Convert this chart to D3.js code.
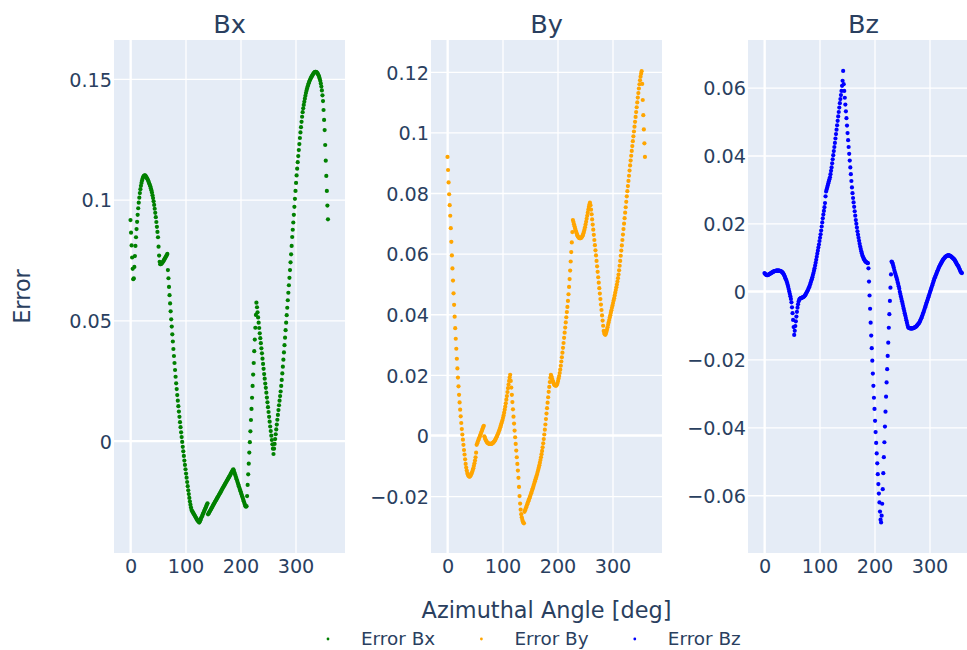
<!DOCTYPE html>
<html>
<head>
<meta charset="utf-8">
<script src="https://cdn.jsdelivr.net/npm/d3@7"></script>
<style>
  html, body { margin: 0; padding: 0; background: #fff; }
  svg text { font-family: "DejaVu Sans", Verdana, sans-serif; fill: #2a3f5f; }
</style>
</head>
<body>
<div id="chart"></div>
<script>
// Field error vs azimuthal angle, one sample per degree (0..359)
const ANGLES = d3.range(0, 360);

const ERROR_BX = [
  0.0915, 0.0863, 0.0810, 0.0760, 0.0713, 0.0670, 0.0674, 0.0721, 0.0766, 0.0808,
  0.0844, 0.0878, 0.0908, 0.0937, 0.0964, 0.0987, 0.1008, 0.1027, 0.1043, 0.1057,
  0.1069, 0.1079, 0.1087, 0.1093, 0.1097, 0.1099, 0.1100, 0.1099, 0.1096, 0.1092,
  0.1088, 0.1084, 0.1079, 0.1073, 0.1067, 0.1061, 0.1055, 0.1047, 0.1039, 0.1029,
  0.1018, 0.1006, 0.0993, 0.0978, 0.0962, 0.0945, 0.0927, 0.0907, 0.0887, 0.0866,
  0.0844, 0.0805, 0.0768, 0.0742, 0.0732, 0.0732, 0.0734, 0.0736, 0.0739, 0.0742,
  0.0746, 0.0750, 0.0754, 0.0758, 0.0762, 0.0766, 0.0770, 0.0775, 0.0708, 0.0674,
  0.0638, 0.0604, 0.0570, 0.0537, 0.0504, 0.0474, 0.0442, 0.0412, 0.0381, 0.0352,
  0.0323, 0.0294, 0.0266, 0.0239, 0.0215, 0.0190, 0.0167, 0.0144, 0.0122, 0.0100,
  0.0078, 0.0057, 0.0036, 0.0016, -0.0004, -0.0024, -0.0043, -0.0062, -0.0081, -0.0099,
  -0.0117, -0.0135, -0.0152, -0.0170, -0.0187, -0.0204, -0.0220, -0.0236, -0.0251, -0.0264,
  -0.0276, -0.0286, -0.0290, -0.0294, -0.0298, -0.0302, -0.0306, -0.0310, -0.0314, -0.0318,
  -0.0322, -0.0326, -0.0329, -0.0332, -0.0335, -0.0338, -0.0333, -0.0328, -0.0322, -0.0317,
  -0.0312, -0.0306, -0.0301, -0.0296, -0.0290, -0.0285, -0.0280, -0.0274, -0.0269, -0.0263,
  -0.0258, -0.0304, -0.0300, -0.0296, -0.0292, -0.0288, -0.0284, -0.0280, -0.0276, -0.0272,
  -0.0267, -0.0263, -0.0259, -0.0255, -0.0251, -0.0247, -0.0243, -0.0239, -0.0235, -0.0231,
  -0.0227, -0.0223, -0.0219, -0.0215, -0.0211, -0.0207, -0.0202, -0.0198, -0.0194, -0.0190,
  -0.0186, -0.0182, -0.0178, -0.0174, -0.0170, -0.0166, -0.0162, -0.0158, -0.0154, -0.0150,
  -0.0146, -0.0142, -0.0137, -0.0133, -0.0129, -0.0125, -0.0121, -0.0117, -0.0124, -0.0131,
  -0.0138, -0.0145, -0.0152, -0.0159, -0.0166, -0.0173, -0.0180, -0.0187, -0.0194, -0.0201,
  -0.0208, -0.0215, -0.0222, -0.0229, -0.0236, -0.0243, -0.0250, -0.0257, -0.0264, -0.0270,
  -0.0272, -0.0270, -0.0228, -0.0182, -0.0138, -0.0094, -0.0048, -0.0005, 0.0040, 0.0087,
  0.0133, 0.0179, 0.0228, 0.0275, 0.0323, 0.0372, 0.0420, 0.0469, 0.0522, 0.0573,
  0.0554, 0.0533, 0.0512, 0.0490, 0.0468, 0.0446, 0.0426, 0.0405, 0.0384, 0.0363,
  0.0341, 0.0319, 0.0299, 0.0277, 0.0258, 0.0238, 0.0220, 0.0200, 0.0180, 0.0160,
  0.0140, 0.0120, 0.0100, 0.0080, 0.0060, 0.0041, 0.0022, 0.0004, -0.0014, -0.0032,
  -0.0054, -0.0032, -0.0012, 0.0008, 0.0028, 0.0048, 0.0068, 0.0088, 0.0108, 0.0128,
  0.0148, 0.0167, 0.0186, 0.0205, 0.0228, 0.0253, 0.0280, 0.0308, 0.0337, 0.0367,
  0.0397, 0.0428, 0.0459, 0.0490, 0.0521, 0.0552, 0.0583, 0.0614, 0.0645, 0.0676,
  0.0708, 0.0740, 0.0773, 0.0808, 0.0845, 0.0875, 0.0905, 0.0937, 0.0970, 0.1003,
  0.1036, 0.1069, 0.1100, 0.1128, 0.1155, 0.1180, 0.1205, 0.1230, 0.1255, 0.1278,
  0.1300, 0.1322, 0.1343, 0.1362, 0.1378, 0.1392, 0.1405, 0.1418, 0.1430, 0.1441,
  0.1451, 0.1460, 0.1468, 0.1475, 0.1482, 0.1488, 0.1494, 0.1499, 0.1504, 0.1508,
  0.1512, 0.1516, 0.1520, 0.1523, 0.1526, 0.1528, 0.1529, 0.1529, 0.1528, 0.1526,
  0.1523, 0.1519, 0.1514, 0.1508, 0.1501, 0.1492, 0.1481, 0.1468, 0.1452, 0.1432,
  0.1408, 0.1371, 0.1330, 0.1288, 0.1226, 0.1161, 0.1098, 0.1036, 0.0975, 0.0918
];

const ERROR_BY = [
  0.0919, 0.0876, 0.0835, 0.0796, 0.0760, 0.0725, 0.0684, 0.0639, 0.0594, 0.0551,
  0.0511, 0.0469, 0.0431, 0.0392, 0.0354, 0.0319, 0.0286, 0.0253, 0.0221, 0.0191,
  0.0162, 0.0134, 0.0109, 0.0085, 0.0063, 0.0041, 0.0021, 0.0003, -0.0014, -0.0031,
  -0.0048, -0.0063, -0.0079, -0.0094, -0.0106, -0.0116, -0.0124, -0.0129, -0.0133, -0.0135,
  -0.0136, -0.0135, -0.0132, -0.0128, -0.0124, -0.0120, -0.0114, -0.0108, -0.0100, -0.0092,
  -0.0083, -0.0072, -0.0057, -0.0031, -0.0026, -0.0021, -0.0016, -0.0011, -0.0007, -0.0002,
  0.0003, 0.0008, 0.0013, 0.0018, 0.0023, 0.0028, 0.0032, -0.0003, -0.0008, -0.0013,
  -0.0017, -0.0020, -0.0023, -0.0025, -0.0026, -0.0027, -0.0028, -0.0028, -0.0028, -0.0028,
  -0.0027, -0.0027, -0.0026, -0.0024, -0.0022, -0.0020, -0.0017, -0.0014, -0.0010, -0.0006,
  -0.0002, 0.0002, 0.0006, 0.0011, 0.0016, 0.0021, 0.0027, 0.0033, 0.0039, 0.0045,
  0.0051, 0.0058, 0.0066, 0.0075, 0.0085, 0.0095, 0.0106, 0.0118, 0.0130, 0.0143,
  0.0156, 0.0168, 0.0180, 0.0191, 0.0200, 0.0180, 0.0158, 0.0134, 0.0110, 0.0086,
  0.0062, 0.0039, 0.0016, -0.0006, -0.0028, -0.0050, -0.0072, -0.0094, -0.0116, -0.0140,
  -0.0170, -0.0200, -0.0225, -0.0245, -0.0260, -0.0270, -0.0278, -0.0284, -0.0288, -0.0290,
  -0.0252, -0.0247, -0.0242, -0.0237, -0.0232, -0.0227, -0.0222, -0.0217, -0.0212, -0.0207,
  -0.0202, -0.0197, -0.0191, -0.0186, -0.0180, -0.0175, -0.0169, -0.0163, -0.0157, -0.0151,
  -0.0145, -0.0139, -0.0133, -0.0127, -0.0120, -0.0113, -0.0106, -0.0098, -0.0090, -0.0081,
  -0.0072, -0.0062, -0.0051, -0.0039, -0.0026, -0.0012, 0.0003, 0.0019, 0.0036, 0.0054,
  0.0072, 0.0090, 0.0108, 0.0126, 0.0144, 0.0160, 0.0176, 0.0190, 0.0200, 0.0195,
  0.0188, 0.0182, 0.0177, 0.0172, 0.0168, 0.0166, 0.0165, 0.0164, 0.0165, 0.0168,
  0.0173, 0.0180, 0.0188, 0.0196, 0.0206, 0.0217, 0.0230, 0.0244, 0.0258, 0.0273,
  0.0289, 0.0305, 0.0322, 0.0339, 0.0356, 0.0373, 0.0390, 0.0407, 0.0424, 0.0444,
  0.0466, 0.0490, 0.0516, 0.0544, 0.0574, 0.0605, 0.0637, 0.0671, 0.0711, 0.0704,
  0.0697, 0.0690, 0.0683, 0.0677, 0.0671, 0.0666, 0.0661, 0.0657, 0.0654, 0.0652,
  0.0651, 0.0651, 0.0651, 0.0652, 0.0654, 0.0657, 0.0661, 0.0666, 0.0672, 0.0679,
  0.0687, 0.0696, 0.0705, 0.0715, 0.0725, 0.0735, 0.0745, 0.0754, 0.0762, 0.0768,
  0.0760, 0.0745, 0.0730, 0.0713, 0.0696, 0.0679, 0.0662, 0.0645, 0.0628, 0.0611,
  0.0594, 0.0576, 0.0558, 0.0540, 0.0522, 0.0504, 0.0486, 0.0468, 0.0450, 0.0432,
  0.0414, 0.0396, 0.0379, 0.0362, 0.0345, 0.0338, 0.0334, 0.0332, 0.0336, 0.0342,
  0.0349, 0.0357, 0.0365, 0.0373, 0.0381, 0.0389, 0.0397, 0.0405, 0.0413, 0.0421,
  0.0429, 0.0437, 0.0445, 0.0453, 0.0462, 0.0471, 0.0480, 0.0489, 0.0498, 0.0508,
  0.0519, 0.0531, 0.0545, 0.0560, 0.0576, 0.0593, 0.0610, 0.0627, 0.0645, 0.0663,
  0.0681, 0.0699, 0.0717, 0.0735, 0.0753, 0.0771, 0.0789, 0.0806, 0.0823, 0.0840,
  0.0857, 0.0874, 0.0891, 0.0907, 0.0923, 0.0939, 0.0955, 0.0971, 0.0987, 0.1003,
  0.1019, 0.1035, 0.1051, 0.1067, 0.1083, 0.1099, 0.1115, 0.1130, 0.1145, 0.1159,
  0.1172, 0.1184, 0.1194, 0.1202, 0.1160, 0.1107, 0.1057, 0.1010, 0.0964, 0.0919
];

const ERROR_BZ = [
  0.0054, 0.0052, 0.0050, 0.0049, 0.0048, 0.0048, 0.0048, 0.0049, 0.0050, 0.0051,
  0.0052, 0.0053, 0.0054, 0.0055, 0.0056, 0.0057, 0.0058, 0.0059, 0.0059, 0.0060,
  0.0060, 0.0061, 0.0061, 0.0061, 0.0061, 0.0061, 0.0061, 0.0061, 0.0060, 0.0060,
  0.0059, 0.0058, 0.0057, 0.0055, 0.0053, 0.0050, 0.0047, 0.0043, 0.0039, 0.0035,
  0.0031, 0.0026, 0.0020, 0.0014, 0.0007, 0.0000, -0.0007, -0.0014, -0.0022, -0.0032,
  -0.0047, -0.0064, -0.0084, -0.0105, -0.0128, -0.0116, -0.0102, -0.0088, -0.0074, -0.0060,
  -0.0048, -0.0038, -0.0030, -0.0025, -0.0022, -0.0021, -0.0020, -0.0019, -0.0019, -0.0018,
  -0.0017, -0.0016, -0.0015, -0.0013, -0.0011, -0.0008, -0.0005, -0.0002, 0.0001, 0.0004,
  0.0008, 0.0012, 0.0016, 0.0021, 0.0026, 0.0031, 0.0036, 0.0042, 0.0048, 0.0054,
  0.0061, 0.0068, 0.0076, 0.0084, 0.0093, 0.0102, 0.0111, 0.0120, 0.0129, 0.0138,
  0.0148, 0.0158, 0.0168, 0.0179, 0.0191, 0.0203, 0.0215, 0.0226, 0.0237, 0.0248,
  0.0260, 0.0280, 0.0294, 0.0300, 0.0306, 0.0312, 0.0318, 0.0324, 0.0330, 0.0336,
  0.0345, 0.0355, 0.0365, 0.0377, 0.0389, 0.0401, 0.0413, 0.0425, 0.0437, 0.0450,
  0.0463, 0.0476, 0.0489, 0.0502, 0.0515, 0.0528, 0.0541, 0.0554, 0.0566, 0.0578,
  0.0590, 0.0605, 0.0620, 0.0649, 0.0610, 0.0590, 0.0570, 0.0550, 0.0530, 0.0510,
  0.0488, 0.0466, 0.0445, 0.0425, 0.0405, 0.0385, 0.0365, 0.0345, 0.0325, 0.0306,
  0.0289, 0.0275, 0.0262, 0.0249, 0.0236, 0.0223, 0.0210, 0.0199, 0.0188, 0.0177,
  0.0167, 0.0158, 0.0149, 0.0140, 0.0132, 0.0125, 0.0118, 0.0112, 0.0106, 0.0102,
  0.0098, 0.0095, 0.0092, 0.0089, 0.0087, 0.0086, 0.0085, 0.0084, 0.0083, 0.0068,
  0.0029, -0.0012, -0.0051, -0.0092, -0.0130, -0.0167, -0.0204, -0.0242, -0.0278, -0.0313,
  -0.0346, -0.0381, -0.0414, -0.0446, -0.0477, -0.0506, -0.0538, -0.0567, -0.0595, -0.0621,
  -0.0648, -0.0672, -0.0680, -0.0660, -0.0625, -0.0582, -0.0535, -0.0488, -0.0444, -0.0398,
  -0.0354, -0.0310, -0.0268, -0.0229, -0.0190, -0.0151, -0.0107, -0.0067, -0.0028, 0.0011,
  0.0050, 0.0088, 0.0086, 0.0082, 0.0076, 0.0070, 0.0063, 0.0057, 0.0052, 0.0046,
  0.0041, 0.0035, 0.0028, 0.0022, 0.0015, 0.0008, -0.0001, -0.0008, -0.0015, -0.0022,
  -0.0029, -0.0036, -0.0043, -0.0050, -0.0057, -0.0064, -0.0071, -0.0078, -0.0085, -0.0092,
  -0.0099, -0.0105, -0.0107, -0.0108, -0.0108, -0.0109, -0.0109, -0.0109, -0.0109, -0.0109,
  -0.0108, -0.0108, -0.0107, -0.0106, -0.0105, -0.0104, -0.0103, -0.0101, -0.0099, -0.0097,
  -0.0095, -0.0093, -0.0090, -0.0087, -0.0083, -0.0079, -0.0075, -0.0071, -0.0066, -0.0062,
  -0.0057, -0.0052, -0.0047, -0.0042, -0.0037, -0.0032, -0.0027, -0.0022, -0.0017, -0.0012,
  -0.0007, -0.0002, 0.0003, 0.0008, 0.0013, 0.0018, 0.0023, 0.0028, 0.0033, 0.0038,
  0.0042, 0.0046, 0.0050, 0.0054, 0.0058, 0.0062, 0.0066, 0.0070, 0.0073, 0.0077,
  0.0080, 0.0083, 0.0086, 0.0089, 0.0092, 0.0094, 0.0096, 0.0098, 0.0100, 0.0102,
  0.0103, 0.0104, 0.0105, 0.0106, 0.0106, 0.0106, 0.0106, 0.0105, 0.0104, 0.0103,
  0.0102, 0.0100, 0.0099, 0.0097, 0.0096, 0.0094, 0.0092, 0.0089, 0.0086, 0.0083,
  0.0080, 0.0077, 0.0075, 0.0072, 0.0068, 0.0064, 0.0060, 0.0057, 0.0055, 0.0054
];

const SUBPLOT_TITLES = ["Bx", "By", "Bz"];
const SERIES_NAMES   = ["Error Bx", "Error By", "Error Bz"];
const SERIES_COLORS  = ["green", "orange", "blue"];
const X_TICKS    = [0, 100, 200, 300];
const Y_TICKS_BX = [0, 0.05, 0.1, 0.15];
const Y_TICKS_BY = [-0.02, 0, 0.02, 0.04, 0.06, 0.08, 0.1, 0.12];
const Y_TICKS_BZ = [-0.06, -0.04, -0.02, 0, 0.02, 0.04, 0.06];

// Layout
const W = 967, H = 650;
const PLOT_TOP = 40, PLOT_H = 513, PLOT_W = 231;
const PLOT_LEFT = [114, 431, 748];
const X_DOMAIN = [-30, 390];
const Y_DOMAINS = [[-0.0464, 0.1661], [-0.0388, 0.1305], [-0.0770, 0.0740]];
const BG = "#E5ECF6";

const panels = SUBPLOT_TITLES.map((t, i) => ({
  title: t,
  name: SERIES_NAMES[i],
  color: SERIES_COLORS[i],
  values: [ERROR_BX, ERROR_BY, ERROR_BZ][i],
  yTicks: [Y_TICKS_BX, Y_TICKS_BY, Y_TICKS_BZ][i],
  yDomain: Y_DOMAINS[i],
  left: PLOT_LEFT[i]
}));

const fmtTick = d => d < 0 ? "\u2212" + Math.abs(d) : String(d);

const svg = d3.select("#chart").append("svg")
  .attr("width", W).attr("height", H)
  .style("display", "block");

panels.forEach(p => {
  const x = d3.scaleLinear().domain(X_DOMAIN).range([0, PLOT_W]);
  const y = d3.scaleLinear().domain(p.yDomain).range([PLOT_H, 0]);

  const g = svg.append("g").attr("transform", `translate(${p.left},${PLOT_TOP})`);
  g.append("rect").attr("width", PLOT_W).attr("height", PLOT_H).attr("fill", BG);

  // grid + tick labels
  const gx = g.append("g").attr("transform", `translate(0,${PLOT_H})`)
    .call(d3.axisBottom(x).tickValues(X_TICKS).tickSize(-PLOT_H).tickPadding(6.5).tickFormat(fmtTick));
  const gy = g.append("g")
    .call(d3.axisLeft(y).tickValues(p.yTicks).tickSize(-PLOT_W).tickPadding(2).tickFormat(fmtTick));

  [gx, gy].forEach(a => {
    a.select(".domain").remove();
    a.selectAll(".tick line").attr("stroke", "#fff").attr("stroke-width", 1.3);
    a.selectAll(".tick text").attr("fill", "#2a3f5f").style("font-size", "19.2px")
      .style("font-family", "'DejaVu Sans', Verdana, sans-serif");
  });
  gy.selectAll(".tick text").attr("dy", "0.38em");

  // zero lines
  g.append("line").attr("x1", x(0)).attr("x2", x(0)).attr("y1", 0).attr("y2", PLOT_H)
    .attr("stroke", "#fff").attr("stroke-width", 2);
  if (p.yDomain[0] < 0) {
    g.append("line").attr("x1", 0).attr("x2", PLOT_W).attr("y1", y(0)).attr("y2", y(0))
      .attr("stroke", "#fff").attr("stroke-width", 2.2);
  }

  // markers
  g.append("g").selectAll("circle").data(ANGLES).join("circle")
    .attr("cx", (d) => x(d))
    .attr("cy", (d, i) => y(p.values[i]))
    .attr("r", 2.1)
    .attr("fill", p.color);

  // subplot title
  svg.append("text")
    .attr("x", p.left + PLOT_W / 2).attr("y", 33)
    .attr("text-anchor", "middle").style("font-size", "25.6px")
    .text(p.title);
});

// axis titles
svg.append("text")
  .attr("transform", `translate(30,${PLOT_TOP + PLOT_H / 2}) rotate(-90)`)
  .attr("text-anchor", "middle").style("font-size", "22.4px")
  .text("Error");

svg.append("text")
  .attr("x", PLOT_LEFT[1] + PLOT_W / 2).attr("y", 618)
  .attr("text-anchor", "middle").style("font-size", "22.4px")
  .text("Azimuthal Angle [deg]");

// legend (horizontal, below) - kept just inside the bottom edge
const legend = svg.append("g").attr("transform", "translate(328,639)");
const item = legend.selectAll("g.item").data(panels).join("g").attr("class", "item")
  .attr("transform", (d, i) => `translate(${i * 153.4},0)`);
item.append("circle").attr("r", 1.4).attr("fill", d => d.color);
item.append("text").attr("x", 33).attr("y", 6).style("font-size", "18.4px").text(d => d.name);
</script>
</body>
</html>
